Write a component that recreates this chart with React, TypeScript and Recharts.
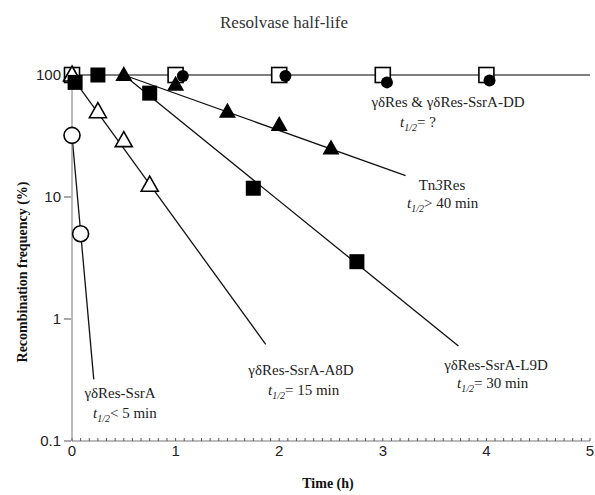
import React from "react";
import { ComposedChart, Line, Scatter, XAxis, YAxis } from "recharts";

// marker data (hours, % recombination)
const openSquareHours = [0, 1, 2, 3, 4];
const openSquareValues = [100, 100, 100, 100, 100];
const filledCircleHours = [1.07, 2.06, 3.04, 4.03];
const filledCircleValues = [98, 98, 87, 90];
const openTriangleHours = [0, 0.25, 0.5, 0.75];
const openTriangleValues = [100, 50, 29, 12.5];
const filledSquareHours = [0.03, 0.25, 0.75, 1.75, 2.75];
const filledSquareValues = [87, 100, 71, 11.8, 2.95];
const filledTriangleHours = [0.5, 1, 1.5, 2, 2.5];
const filledTriangleValues = [100, 83, 50, 39, 25];
const openCircleHours = [0, 0.083];
const openCircleValues = [32, 5];

// fitted decay lines (end points)
const flatFitHours = [0, 5];
const flatFitValues = [100, 100];
const ssrAFitHours = [0, 0.21];
const ssrAFitValues = [32, 0.32];
const a8dFitHours = [0, 1.87];
const a8dFitValues = [96, 0.62];
const l9dFitHours = [0.5, 3.73];
const l9dFitValues = [100, 0.6];
const tn3FitHours = [0.5, 3.22];
const tn3FitValues = [100, 15];

// axis ticks (x: every 5 min, labelled on the hour)
const xTicks = Array.from({ length: 61 }, (_, i) => i / 12);
const yLabels = [0.1, 1, 10, 100];
const yMinorTicks = [0.2, 0.3, 0.4, 0.5, 0.6, 0.7, 0.8, 0.9, 2, 3, 4, 5, 6, 7, 8, 9, 20, 30, 40, 50, 60, 70, 80, 90];

const zip = (xs: number[], ys: number[]) => xs.map((x, i) => ({ x, y: ys[i] }));

const serif = "'Liberation Serif', 'Times New Roman', serif";
const sans = "'Liberation Sans', Arial, sans-serif";

const hourLabel = (v: number) => (Math.abs(v - Math.round(v)) < 1e-6 ? String(Math.round(v)) : "");

const OpenSquare = ({ cx, cy }: any) => (
  <rect x={cx - 7.5} y={cy - 7.5} width={15} height={15} fill="#fff" stroke="#000" strokeWidth={1.6} />
);
const FilledSquare = ({ cx, cy }: any) => (
  <rect x={cx - 7.5} y={cy - 7.5} width={15} height={15} fill="#000" />
);
const tri = (cx: number, cy: number) =>
  `${cx},${cy - 9} ${cx + 8.5},${cy + 6} ${cx - 8.5},${cy + 6}`;
const OpenTriangle = ({ cx, cy }: any) => (
  <polygon points={tri(cx, cy)} fill="#fff" stroke="#000" strokeWidth={1.6} />
);
const FilledTriangle = ({ cx, cy }: any) => <polygon points={tri(cx, cy)} fill="#000" />;
const OpenCircle = ({ cx, cy }: any) => (
  <circle cx={cx} cy={cy} r={8} fill="#fff" stroke="#000" strokeWidth={1.6} />
);
const FilledCircle = ({ cx, cy }: any) => <circle cx={cx} cy={cy} r={6} fill="#000" />;

const Half = ({ rel }: { rel: string }) => (
  <>
    <tspan fontStyle="italic">t</tspan>
    <tspan fontStyle="italic" fontSize={10} dy={4}>1/2</tspan>
    <tspan dy={-4}>{rel}</tspan>
  </>
);

const tickText = { fontFamily: sans, fontSize: 15, fill: "#222" };

export default function App() {
  const fits = [
    zip(flatFitHours, flatFitValues),
    zip(ssrAFitHours, ssrAFitValues),
    zip(a8dFitHours, a8dFitValues),
    zip(l9dFitHours, l9dFitValues),
    zip(tn3FitHours, tn3FitValues),
  ];
  const txt = { fontFamily: serif, fontSize: 15, fill: "#222" };

  return (
    <div style={{ position: "absolute", left: 0, top: 0 }}>
      <ComposedChart width={595} height={495} margin={{ top: 75, right: 5, bottom: 24, left: 0 }}>
        <XAxis
          dataKey="x"
          type="number"
          domain={[0, 5]}
          ticks={xTicks}
          interval={0}
          tickSize={-3}
          tickMargin={7}
          tickFormatter={hourLabel}
          tickLine={{ stroke: "#555" }}
          tick={tickText}
          axisLine={{ stroke: "#777" }}
          height={30}
        />
        {/* inner y axis: carries the data, axis line and small ticks */}
        <YAxis
          dataKey="y"
          type="number"
          scale="log"
          domain={[0.1, 100]}
          ticks={yMinorTicks}
          interval={0}
          tickSize={4}
          tick={false}
          tickLine={{ stroke: "#555" }}
          axisLine={{ stroke: "#777" }}
          width={1}
        />
        {/* outer y axis: decade labels */}
        <YAxis
          yAxisId="lab"
          type="number"
          scale="log"
          domain={[0.1, 100]}
          ticks={yLabels}
          interval={0}
          tickSize={7}
          tickMargin={3}
          tickLine={{ stroke: "#555" }}
          tick={tickText}
          axisLine={false}
          width={71}
          allowDataOverflow
        />
        {fits.map((d, i) => (
          <Line
            key={i}
            data={d}
            dataKey="y"
            type="linear"
            dot={false}
            activeDot={false}
            stroke={i === 0 ? "#555" : "#111"}
            strokeWidth={i === 0 ? 1.6 : 1.3}
            isAnimationActive={false}
          />
        ))}
        <Scatter data={zip(openSquareHours, openSquareValues)} dataKey="y" shape={OpenSquare} isAnimationActive={false} />
        <Scatter data={zip(openTriangleHours, openTriangleValues)} dataKey="y" shape={OpenTriangle} isAnimationActive={false} />
        <Scatter data={zip(filledSquareHours, filledSquareValues)} dataKey="y" shape={FilledSquare} isAnimationActive={false} />
        <Scatter data={zip(filledTriangleHours, filledTriangleValues)} dataKey="y" shape={FilledTriangle} isAnimationActive={false} />
        <Scatter data={zip(filledCircleHours, filledCircleValues)} dataKey="y" shape={FilledCircle} isAnimationActive={false} />
        <Scatter data={zip(openCircleHours, openCircleValues)} dataKey="y" shape={OpenCircle} isAnimationActive={false} />

        <text x={284} y={28} textAnchor="middle" fontFamily={serif} fontSize={17} fill="#333">
          Resolvase half-life
        </text>
        <text x={328} y={488} textAnchor="middle" fontFamily={serif} fontSize={14} fontWeight="bold" fill="#111">
          Time (h)
        </text>
        <text
          transform="translate(27,272) rotate(-90)"
          textAnchor="middle"
          fontFamily={serif}
          fontSize={14}
          fontWeight="bold"
          fill="#111"
        >
          Recombination frequency (%)
        </text>

        <text x={448} y={107} textAnchor="middle" {...txt}>γδRes &amp; γδRes-SsrA-DD</text>
        <text x={400} y={127} {...txt}><Half rel="= ?" /></text>
        <text x={442} y={190} textAnchor="middle" {...txt}>
          Tn<tspan fontStyle="italic">3</tspan>Res
        </text>
        <text x={407} y={208} {...txt}><Half rel="> 40 min" /></text>
        <text x={301} y={375} textAnchor="middle" {...txt}>γδRes-SsrA-A8D</text>
        <text x={268} y={395} {...txt}><Half rel="= 15 min" /></text>
        <text x={496} y={370} textAnchor="middle" {...txt}>γδRes-SsrA-L9D</text>
        <text x={457} y={388} {...txt}><Half rel="= 30 min" /></text>
        <text x={120} y={398} textAnchor="middle" {...txt}>γδRes-SsrA</text>
        <text x={93} y={418} {...txt}><Half rel="< 5 min" /></text>
      </ComposedChart>
    </div>
  );
}
